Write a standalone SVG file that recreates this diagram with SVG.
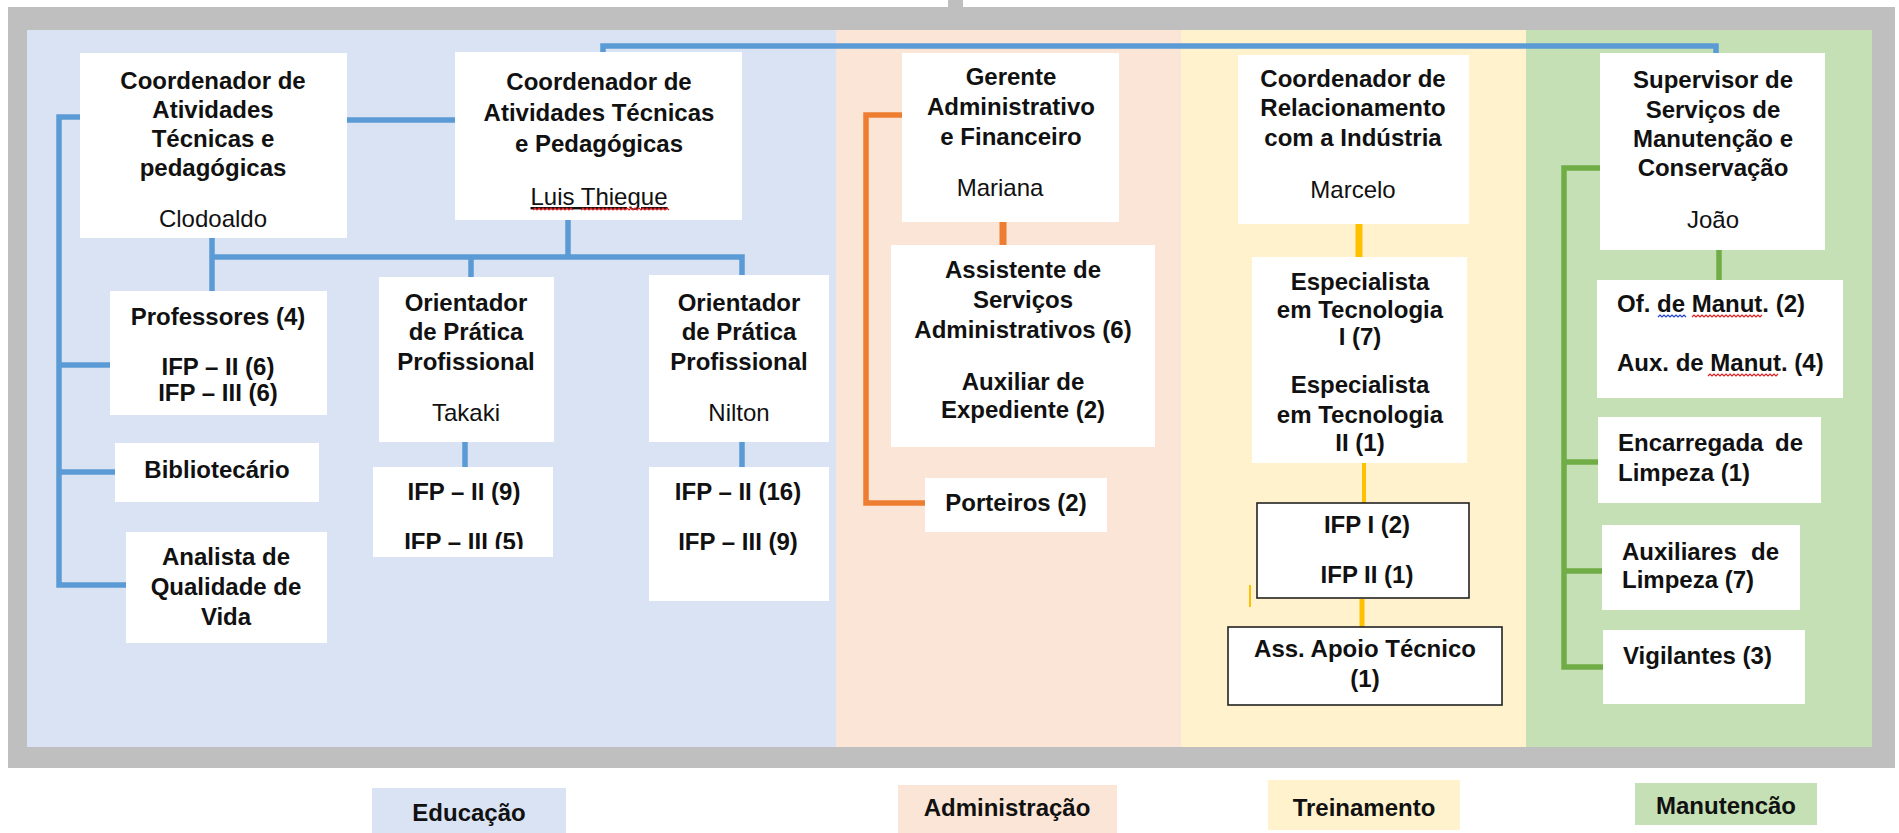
<svg xmlns="http://www.w3.org/2000/svg" width="1899" height="833" viewBox="0 0 1899 833">
<defs>
<style>
text{font-family:"Liberation Sans",Arial,sans-serif;font-size:24px;fill:#111;}
.b{font-weight:bold;}
.c{text-anchor:middle;}
.box{fill:#fff;}
.obox{fill:#fff;stroke:#222;stroke-width:1.6;}
.bl{fill:none;stroke:#5b9bd5;stroke-width:5.5;}
.or{fill:none;stroke:#ed7d31;stroke-width:5.5;}
.ye{fill:none;stroke:#ffc000;}
.gr{fill:none;stroke:#70ad47;stroke-width:5.5;}
.sq{fill:none;stroke:#e02020;stroke-width:1.2;}
.sqb{fill:none;stroke:#2040d0;stroke-width:1.2;}
</style>
<clipPath id="clipT"><rect x="373" y="467" width="180" height="82"/></clipPath>
</defs>
<g id="frame">
<rect x="948" y="0" width="15" height="10" fill="#bfbfbf"/>
<rect x="8" y="7" width="1887" height="761" fill="#bfbfbf"/>
<rect x="27" y="30" width="810" height="717" fill="#dae3f3"/>
<rect x="836" y="30" width="346" height="717" fill="#fbe5d6"/>
<rect x="1181" y="30" width="346" height="717" fill="#fff2cc"/>
<rect x="1526" y="30" width="346" height="717" fill="#c5e0b4"/>
</g>
<g id="connectors">
<path class="bl" d="M603,53 V46 H1716 V53"/>
<path class="bl" d="M347,120 H455"/>
<path class="bl" d="M80,117 H59 V585 H126 M59,365 H110 M59,472 H115"/>
<path class="bl" d="M212,238 V291 M212,257 H742 V277 M568,220 V257 M471,257 V277"/>
<path class="bl" d="M465,442 V467 M742,442 V467"/>
<path class="or" d="M902,115 H866 V503 H925"/>
<path class="or" d="M1003,222 V245" style="stroke-width:7"/>
<path class="ye" d="M1359,224 V257" style="stroke-width:7"/>
<path class="ye" d="M1364,463 V503" style="stroke-width:4"/>
<path class="ye" d="M1362,599 V627" style="stroke-width:5"/>
<path class="ye" d="M1250,585 V607" style="stroke-width:2"/>
<path class="gr" d="M1600,168 H1564 V667 H1603 M1564,462 H1598 M1564,571 H1602"/>
<path class="gr" d="M1719,250 V280"/>
</g>
<g id="n-clodoaldo">
<rect class="box" x="80" y="53" width="267" height="185"/>
<text class="b c" x="213" y="89">Coordenador de</text>
<text class="b c" x="213" y="118">Atividades</text>
<text class="b c" x="213" y="147">Técnicas e</text>
<text class="b c" x="213" y="176">pedagógicas</text>
<text class="c" x="213" y="227">Clodoaldo</text>
</g>
<g id="n-luis">
<rect class="box" x="455" y="52" width="287" height="168"/>
<text class="b c" x="599" y="90">Coordenador de</text>
<text class="b c" x="599" y="121">Atividades Técnicas</text>
<text class="b c" x="599" y="152">e Pedagógicas</text>
<text class="c" x="599" y="205" text-decoration="underline">Luis Thiegue</text>
<path class="sq" d="M533,210 l2,-2 l2,2 l2,-2 l2,2 l2,-2 l2,2 l2,-2 l2,2 l2,-2 l2,2 l2,-2 l2,2 l2,-2 l2,2 l2,-2 l2,2 l2,-2 l2,2 l2,-2 l2,2"/>
<path class="sq" d="M581,210 l2,-2 l2,2 l2,-2 l2,2 l2,-2 l2,2 l2,-2 l2,2 l2,-2 l2,2 l2,-2 l2,2 l2,-2 l2,2 l2,-2 l2,2 l2,-2 l2,2 l2,-2 l2,2 l2,-2 l2,2 l2,-2 l2,2 l2,-2 l2,2 l2,-2 l2,2 l2,-2 l2,2 l2,-2 l2,2 l2,-2 l2,2 l2,-2 l2,2 l2,-2 l2,2 l2,-2 l2,2 l2,-2 l2,2 l2,-2 l2,2"/>
</g>
<g id="n-professores">
<rect class="box" x="110" y="291" width="217" height="124"/>
<text class="b c" x="218" y="325">Professores (4)</text>
<text class="b c" x="218" y="375">IFP – II (6)</text>
<text class="b c" x="218" y="401">IFP – III (6)</text>
</g>
<g id="n-takaki">
<rect class="box" x="379" y="277" width="175" height="165"/>
<text class="b c" x="466" y="311">Orientador</text>
<text class="b c" x="466" y="340">de Prática</text>
<text class="b c" x="466" y="370">Profissional</text>
<text class="c" x="466" y="421">Takaki</text>
</g>
<g id="n-nilton">
<rect class="box" x="649" y="275" width="180" height="167"/>
<text class="b c" x="739" y="311">Orientador</text>
<text class="b c" x="739" y="340">de Prática</text>
<text class="b c" x="739" y="370">Profissional</text>
<text class="c" x="739" y="421">Nilton</text>
</g>
<g id="n-bibliotecario">
<rect class="box" x="115" y="443" width="204" height="59"/>
<text class="b c" x="217" y="478">Bibliotecário</text>
</g>
<g id="n-analista">
<rect class="box" x="126" y="532" width="201" height="111"/>
<text class="b c" x="226" y="565">Analista de</text>
<text class="b c" x="226" y="595">Qualidade de</text>
<text class="b c" x="226" y="625">Vida</text>
</g>
<g id="n-ifp-takaki">
<rect class="box" x="373" y="467" width="180" height="90"/>
<text class="b c" x="464" y="500">IFP – II (9)</text>
<text class="b c" x="464" y="550" clip-path="url(#clipT)">IFP – III (5)</text>
</g>
<g id="n-ifp-nilton">
<rect class="box" x="649" y="467" width="180" height="134"/>
<text class="b c" x="738" y="500">IFP – II (16)</text>
<text class="b c" x="738" y="550">IFP – III (9)</text>
</g>
<g id="n-gerente">
<rect class="box" x="902" y="53" width="217" height="169"/>
<text class="b c" x="1011" y="85">Gerente</text>
<text class="b c" x="1011" y="115">Administrativo</text>
<text class="b c" x="1011" y="145">e Financeiro</text>
<text class="c" x="1000" y="196">Mariana</text>
</g>
<g id="n-assistente">
<rect class="box" x="891" y="245" width="264" height="202"/>
<text class="b c" x="1023" y="278">Assistente de</text>
<text class="b c" x="1023" y="308">Serviços</text>
<text class="b c" x="1023" y="338">Administrativos (6)</text>
<text class="b c" x="1023" y="390">Auxiliar de</text>
<text class="b c" x="1023" y="418">Expediente (2)</text>
</g>
<g id="n-porteiros">
<rect class="box" x="925" y="478" width="182" height="54"/>
<text class="b c" x="1016" y="511">Porteiros (2)</text>
</g>
<g id="n-marcelo">
<rect class="box" x="1238" y="55" width="231" height="169"/>
<text class="b c" x="1353" y="87">Coordenador de</text>
<text class="b c" x="1353" y="116">Relacionamento</text>
<text class="b c" x="1353" y="146">com a Indústria</text>
<text class="c" x="1353" y="198">Marcelo</text>
</g>
<g id="n-especialista">
<rect class="box" x="1252" y="257" width="215" height="206"/>
<text class="b c" x="1360" y="290">Especialista</text>
<text class="b c" x="1360" y="318">em Tecnologia</text>
<text class="b c" x="1360" y="345">I (7)</text>
<text class="b c" x="1360" y="393">Especialista</text>
<text class="b c" x="1360" y="423">em Tecnologia</text>
<text class="b c" x="1360" y="451">II (1)</text>
</g>
<g id="n-ifp-trein">
<rect class="obox" x="1257" y="503" width="212" height="95"/>
<text class="b c" x="1367" y="533">IFP I (2)</text>
<text class="b c" x="1367" y="583">IFP II (1)</text>
</g>
<g id="n-apoio">
<rect class="obox" x="1228" y="627" width="274" height="78"/>
<text class="b c" x="1365" y="657">Ass. Apoio Técnico</text>
<text class="b c" x="1365" y="687">(1)</text>
</g>
<g id="n-supervisor">
<rect class="box" x="1600" y="53" width="225" height="197"/>
<text class="b c" x="1713" y="88">Supervisor de</text>
<text class="b c" x="1713" y="118">Serviços de</text>
<text class="b c" x="1713" y="147">Manutenção e</text>
<text class="b c" x="1713" y="176">Conservação</text>
<text class="c" x="1713" y="228">João</text>
</g>
<g id="n-oficiais">
<rect class="box" x="1597" y="280" width="246" height="118"/>
<text class="b" x="1617" y="312">Of. de Manut. (2)</text>
<text class="b" x="1617" y="371">Aux. de Manut. (4)</text>
<path class="sqb" d="M1658,317 l2,-2 l2,2 l2,-2 l2,2 l2,-2 l2,2 l2,-2 l2,2 l2,-2 l2,2 l2,-2 l2,2 l2,-2 l2,2"/>
<path class="sq" d="M1692,317 l2,-2 l2,2 l2,-2 l2,2 l2,-2 l2,2 l2,-2 l2,2 l2,-2 l2,2 l2,-2 l2,2 l2,-2 l2,2 l2,-2 l2,2 l2,-2 l2,2 l2,-2 l2,2 l2,-2 l2,2 l2,-2 l2,2 l2,-2 l2,2 l2,-2 l2,2 l2,-2 l2,2 l2,-2 l2,2 l2,-2 l2,2 l2,-2"/>
<path class="sq" d="M1708,376 l2,-2 l2,2 l2,-2 l2,2 l2,-2 l2,2 l2,-2 l2,2 l2,-2 l2,2 l2,-2 l2,2 l2,-2 l2,2 l2,-2 l2,2 l2,-2 l2,2 l2,-2 l2,2 l2,-2 l2,2 l2,-2 l2,2 l2,-2 l2,2 l2,-2 l2,2 l2,-2 l2,2 l2,-2 l2,2 l2,-2 l2,2 l2,-2"/>
</g>
<g id="n-encarregada">
<rect class="box" x="1598" y="417" width="223" height="86"/>
<text class="b" x="1618" y="451">Encarregada</text>
<text class="b" x="1803" y="451" text-anchor="end">de</text>
<text class="b" x="1618" y="481">Limpeza (1)</text>
</g>
<g id="n-auxiliares">
<rect class="box" x="1602" y="525" width="198" height="85"/>
<text class="b" x="1622" y="560">Auxiliares</text>
<text class="b" x="1779" y="560" text-anchor="end">de</text>
<text class="b" x="1622" y="588">Limpeza (7)</text>
</g>
<g id="n-vigilantes">
<rect class="box" x="1603" y="630" width="202" height="74"/>
<text class="b" x="1623" y="664">Vigilantes (3)</text>
</g>
<g id="legend">
<rect x="372" y="788" width="194" height="50" fill="#dae3f3"/>
<text class="b c" x="469" y="821">Educação</text>
<rect x="898" y="785" width="219" height="50" fill="#fbe5d6"/>
<text class="b c" x="1007" y="816">Administração</text>
<rect x="1268" y="780" width="192" height="50" fill="#fff2cc"/>
<text class="b c" x="1364" y="816">Treinamento</text>
<rect x="1635" y="783" width="182" height="42" fill="#c5e0b4"/>
<text class="b c" x="1726" y="814">Manutencão</text>
</g>
</svg>
